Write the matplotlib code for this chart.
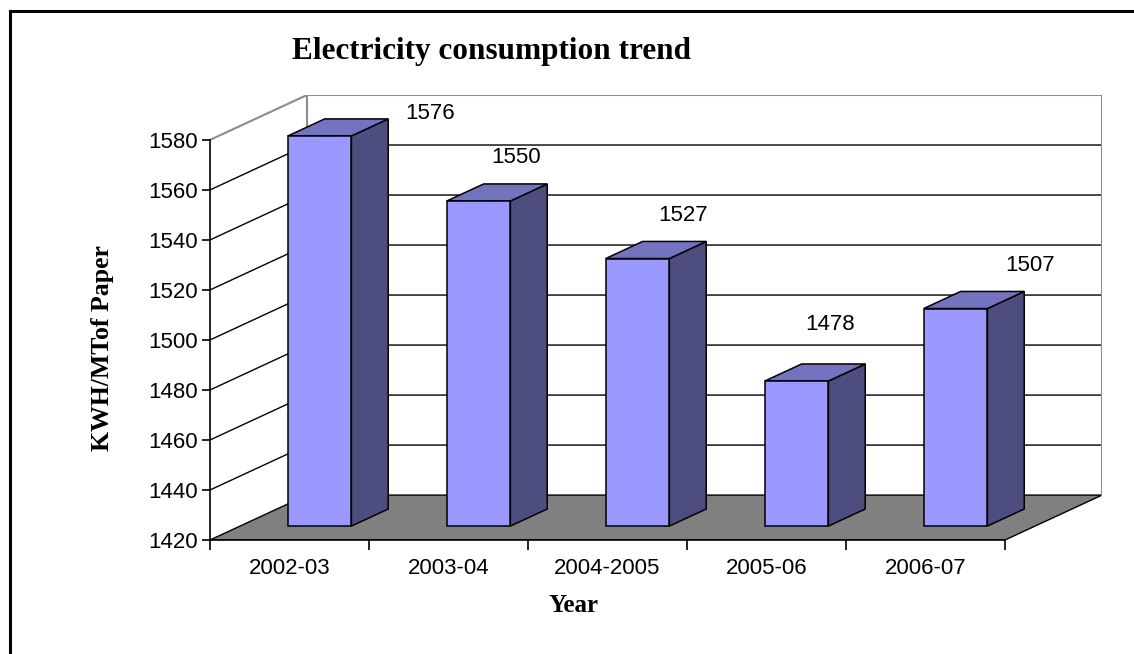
import matplotlib
matplotlib.use("Agg")
import matplotlib.pyplot as plt
from matplotlib.patches import Polygon, Rectangle

# data
years = ["2002-03", "2003-04", "2004-2005", "2005-06", "2006-07"]
kwh_per_mt = [1576, 1550, 1527, 1478, 1507]
y_ticks = [1420, 1440, 1460, 1480, 1500, 1520, 1540, 1560, 1580]

# label nudges (pixels) - the original labels sit a bit irregularly
label_offsets = [(74, 5), (1, 26), (9, 26), (-3, 39), (38, 26)]

YMIN, YMAX = 1420, 1580
DX = 0.61      # depth shift in category units
DY = 17.96     # depth shift in value units
HALF_W = 0.2
D_FRONT, D_BACK = 0.31, 0.69

FRONT = "#9999FF"
TOP = "#7373C0"
SIDE = "#4D4D80"
WALL = "#8C8C8C"
SANS = "Liberation Sans"
SERIF = "Liberation Serif"

W, H = 1134, 654
fig = plt.figure(figsize=(W / 100, H / 100), dpi=100)

# outer frame (only left/top visible in the source image)
fig.patches.append(Rectangle((10 / W, -0.05), 1.2, (H - 11) / H + 0.05,
                             transform=fig.transFigure, fill=False,
                             edgecolor="black", linewidth=2.2))

ax = fig.add_axes([210 / W, (H - 540) / H, (1102 - 210) / W, (540 - 95) / H])
n = len(years)
ax.set_xlim(0, n + DX)
ax.set_ylim(YMIN, YMAX + DY)
for s in ["top", "right"]:
    ax.spines[s].set_visible(False)
ax.spines["left"].set_bounds(YMIN, YMAX)
ax.spines["bottom"].set_bounds(0, n)
for s in ["left", "bottom"]:
    ax.spines[s].set_linewidth(1.2)
    ax.spines[s].set_zorder(6)

# floor
ax.add_patch(Polygon([(0, YMIN), (n, YMIN), (n + DX, YMIN + DY), (DX, YMIN + DY)],
                     closed=True, facecolor="#808080", edgecolor="black",
                     linewidth=1, zorder=1))

# gridlines on side wall and back wall
for v in y_ticks[1:-1]:
    ax.plot([0, DX, n + DX], [v, v + DY, v + DY], color="black",
            linewidth=1, zorder=1.5)

# walls outline
ax.plot([0, DX, n + DX, n + DX], [YMAX, YMAX + DY, YMAX + DY, YMIN + DY],
        color=WALL, linewidth=1.5, zorder=1.6)
ax.plot([DX, DX], [YMIN + DY, YMAX + DY], color=WALL, linewidth=1.5, zorder=1.6)

# bars
for i, v in enumerate(kwh_per_mt):
    c = i + 0.5
    xl1, xr1 = c - HALF_W + D_FRONT * DX, c + HALF_W + D_FRONT * DX
    xl2, xr2 = c - HALF_W + D_BACK * DX, c + HALF_W + D_BACK * DX
    b1, t1 = YMIN + D_FRONT * DY, v + D_FRONT * DY
    b2, t2 = YMIN + D_BACK * DY, v + D_BACK * DY
    kw = dict(closed=True, edgecolor="black", linewidth=1.1, zorder=3)
    ax.add_patch(Polygon([(xr1, b1), (xr2, b2), (xr2, t2), (xr1, t1)], facecolor=SIDE, **kw))
    ax.add_patch(Polygon([(xl1, t1), (xr1, t1), (xr2, t2), (xl2, t2)], facecolor=TOP, **kw))
    ax.add_patch(Polygon([(xl1, b1), (xr1, b1), (xr1, t1), (xl1, t1)], facecolor=FRONT, **kw))
    ox, oy = label_offsets[i]
    ax.annotate(str(v), xy=(c + D_BACK * DX, t2), xytext=(ox, oy),
                textcoords="offset pixels", ha="center", va="center",
                fontsize=16, family=SANS, annotation_clip=False)

ax.set_yticks(y_ticks)
ax.set_yticklabels([str(t) for t in y_ticks], fontsize=16, family=SANS)
ax.tick_params(axis="y", direction="out", length=6, width=1.2, pad=3)

ax.set_xticks(range(n + 1))
ax.set_xticklabels([""] * (n + 1))
ax.set_xticks([i + 0.5 for i in range(n)], minor=True)
ax.set_xticklabels(years, minor=True, fontsize=16, family=SANS)
ax.tick_params(axis="x", which="major", direction="out", length=7, width=1.2)
ax.tick_params(axis="x", which="minor", length=0, pad=13)

fig.text(492 / W, 1 - 52 / H, "Electricity consumption trend", ha="center",
         va="center", fontsize=22.5, fontweight="bold", family=SERIF)
fig.text(103 / W, 1 - 348 / H, "KWH/MTof Paper", rotation=90, ha="center",
         va="center", fontsize=18.5, fontweight="bold", family=SERIF)
fig.text(573 / W, 1 - 605 / H, "Year", ha="center", va="center", fontsize=18,
         fontweight="bold", family=SERIF)

fig.savefig("out.png", dpi=100)
